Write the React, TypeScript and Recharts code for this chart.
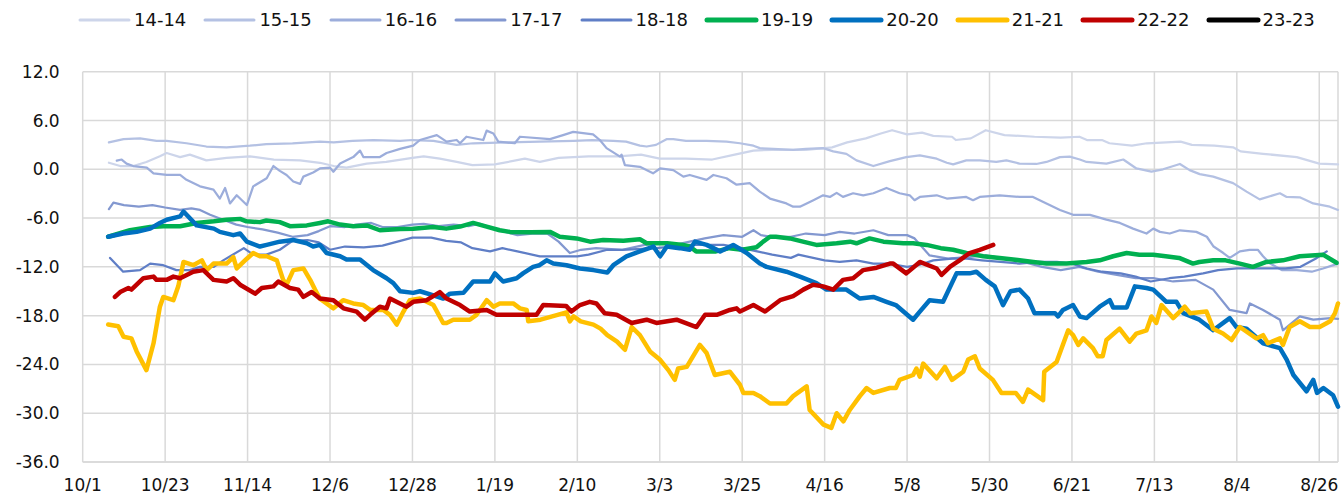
import React from 'react';
import { LineChart, Line, XAxis, YAxis, CartesianGrid, Legend } from 'recharts';

const X_LABELS = ['10/1','10/23','11/14','12/6','12/28','1/19','2/10','3/3','3/25','4/16','5/8','5/30','6/21','7/13','8/4','8/26'];
const X_TICKS = [0,22,44,66,88,110,132,154,176,198,220,242,264,286,308,330];
const Y_TICKS = [-36,-30,-24,-18,-12,-6,0,6,12];

const S14_D = [7,10,13.5,17,20.6,22.4,26,28.6,33,38.4,44.6,51,58,63.3,67,70.4,75.8,81,88,91,95.3,99.8,104,110,118,122,127,135,143,149,154,161,168,174,179,184,193,200,204,209,213,216,220,224,227,232,233,237,241,246,254,261,266,268,272,274,280,284,293,296,302,307,309,315,324,330,335];
const S14_V = [0.8,0.4,0.4,0.9,1.6,2.0,1.5,1.8,1.1,1.4,1.6,1.2,1.1,0.8,0.4,0.2,0.7,0.9,1.4,1.6,1.3,0.9,0.5,0.6,1.3,0.9,1.4,1.6,1.6,1.8,1.3,1.3,1.2,1.8,2.3,2.4,2.4,2.7,3.3,3.8,4.4,4.8,4.3,4.5,4.1,4.0,3.6,3.8,4.8,4.2,4.0,3.9,4.0,3.6,3.6,3.2,2.9,3.2,3.4,3.0,2.9,2.7,2.2,1.9,1.5,0.7,0.6];

const S15_D = [7,10.9,15.3,19.7,22.4,27.7,33,38.4,44.6,49,56,63.3,67,72,77.6,84.7,88,93.6,99.8,104.2,113,122,131,136,141.6,145,148.7,150.5,153,155.8,157.6,161,166.5,171.8,175.4,179,180.7,184.3,189.6,193,197.6,200.3,203.8,206.5,211,215.4,219.8,223.4,227.9,230.6,232.3,235.8,239.4,243.8,246.5,250,254.5,257.2,260.8,263.4,266.1,267.9,273.2,277.7,281.2,285.2,288.3,292.8,295.4,298.1,301.7,307,310.6,314.1,319.5,321.3,324.8,328.4,332.8,335];
const S15_V = [3.3,3.7,3.8,3.5,3.5,3.2,2.8,2.7,2.9,3.1,3.2,3.4,3.3,3.5,3.6,3.5,3.6,3.5,3.0,3.2,3.3,3.4,3.5,3.6,3.5,3.4,2.9,2.8,3.0,3.7,3.7,3.5,3.5,3.4,3.2,2.9,2.6,2.5,2.4,2.5,2.6,2.2,1.9,1.1,0.4,1.0,1.5,1.7,1.3,0.8,0.6,1.1,1.1,0.9,1.1,0.7,0.65,0.9,1.5,1.55,1.2,0.9,0.7,1.2,0.1,-0.3,0.0,0.65,-0.1,-0.6,-0.9,-1.7,-2.75,-3.7,-2.95,-3.4,-3.45,-4.2,-4.6,-5.0];

const S16_D = [9.1,10.4,11.7,13.5,17.1,18.9,22.4,26,27.7,31.3,34.9,36.6,38,39.3,41.1,43.8,45.5,49.1,50.9,52.6,54.4,56.2,58,58.9,61.5,63.3,66,66.9,68.7,72.2,74,74.9,79.3,81.1,84.7,88.2,90,94.5,97.1,99.8,100.7,102.4,106.9,107.8,109.6,110.9,115.3,116.7,124.7,128.2,130.9,136.2,138,139.8,143.4,143.8,144.7,148.7,152.2,154.1,157.6,160.3,162,166.5,168.3,171.8,174.5,178,180.7,183.4,187.8,189.6,191.4,195,197.6,199.4,201.2,202.9,205.6,208.3,211,214.5,218,220.7,222,223.4,227.9,230.6,235.8,237.6,239.4,244.7,250.1,253.6,257.2,260.8,264.3,268.8,273.2,276.8,280.3,283.9,285.7,287.5,290.1,292.8,297.2,300,301.8,304.4,306.1,308.8,311.4,313.6,315,316.9,320,324,328,331,335];
const S16_V = [1.06,1.2,0.7,0.4,0.2,-0.5,-0.7,-0.7,-1.3,-2.1,-2.5,-3.6,-2.3,-4.2,-3.2,-4.4,-2.1,-1.1,0.4,-0.2,-0.7,-1.5,-1.8,-0.9,-0.4,0.1,0.2,-0.3,0.7,1.5,2.3,1.5,1.5,2.0,2.5,2.9,3.6,4.2,3.4,3.6,3.2,4.0,3.6,4.75,4.4,3.4,3.2,4.0,3.7,4.2,4.6,4.3,3.6,2.6,1.55,1.8,0.5,0.3,-0.5,0.1,-0.1,-0.9,-0.7,-1.3,-0.7,-1.1,-1.9,-1.7,-2.75,-3.6,-4.2,-4.6,-4.6,-3.8,-3.2,-3.4,-2.9,-3.4,-2.95,-3.2,-2.95,-2.3,-2.95,-3.2,-3.8,-3.4,-3.2,-3.6,-3.4,-3.8,-3.4,-3.2,-3.4,-3.4,-4.2,-5.0,-5.6,-5.6,-6.2,-6.6,-7.3,-7.9,-7.3,-7.7,-7.9,-7.5,-7.7,-8.3,-9.5,-10.3,-10.9,-10.1,-9.9,-9.9,-10.7,-11.6,-12.4,-12.4,-12.6,-12.2,-11.6];

const S17_D = [7,8.2,11,15,18.6,22,26,29,31.3,34,38,41,44,48,52,56,60,63,66,70,73,77,80,84,88,91,95,99,103,106,109,112,116,120,124,127,130,133,137,144,150,154,158,162,166,171,176,179,181,184,189,193,198,202,206,211,215,220,222,226,231,236,241,246,251,256,261,266,271,276,281,286,291,297,301.7,306.1,310.6,311.5,315,319.5,320.3,324.8,328.4,333,335];
const S17_V = [-4.9,-4.1,-4.4,-4.6,-4.4,-4.7,-5.0,-4.8,-5.0,-5.6,-6.3,-6.8,-7.1,-7.4,-7.8,-8.3,-8.1,-7.6,-7.0,-7.1,-6.8,-6.6,-7.1,-7.1,-6.8,-6.7,-7.0,-6.8,-7.0,-6.7,-7.2,-7.6,-8.1,-7.9,-7.9,-8.9,-10.3,-9.9,-9.7,-9.9,-9.3,-9.1,-9.3,-8.9,-8.5,-8.1,-8.3,-7.5,-8.1,-8.3,-8.3,-7.9,-8.1,-7.7,-7.9,-7.5,-8.1,-8.1,-8.5,-10.6,-11.0,-10.8,-10.6,-11.0,-11.4,-12.0,-12.4,-12.0,-12.6,-13.0,-13.4,-13.4,-13.8,-13.6,-14.8,-17.3,-17.7,-16.5,-17.3,-18.5,-19.8,-18.1,-18.5,-18.3,-18.4];

const S18_D = [7.3,10.8,15.3,18,21.5,25,28.6,31.3,35,37.5,43,45.5,49,52.6,56,60,63,66,70,75,80,84,88,93,97,101,104,108.7,112,116,122,132,135,140,144,153,162,171,176,180,184,189,191,198,202,206.5,211,215,220,223,227,232,236,240,245,250,255,260,264,268,272,277,281,285,290,294,299,303,308,312,317,321,325,329,332];
const S18_V = [-10.9,-12.6,-12.4,-11.6,-11.8,-12.4,-12.4,-12.0,-12.0,-11.2,-9.7,-10.5,-10.5,-9.9,-8.8,-8.7,-9.0,-9.9,-9.5,-9.6,-9.4,-8.9,-8.4,-8.4,-8.8,-9.0,-9.7,-10.1,-9.7,-10.1,-10.7,-10.7,-10.5,-9.9,-9.9,-9.7,-9.3,-9.3,-9.7,-10.1,-10.5,-10.9,-10.5,-11.2,-11.4,-11.2,-11.6,-11.6,-12.0,-11.8,-11.2,-11.0,-11.0,-11.2,-11.4,-11.6,-11.4,-11.4,-11.6,-12.2,-12.6,-12.8,-13.2,-13.8,-13.4,-13.2,-12.8,-12.4,-12.2,-12.2,-12.2,-12.2,-12.0,-11.0,-10.1];

const S19_D = [6.8,12.6,18,21.5,26,30.4,35,38.4,42,43.7,47.3,49,52.6,55.3,59.8,63.3,65.5,68.7,72.2,75.8,79.3,84.7,88.2,93.5,97,100.7,104.2,107.8,111.3,114,119.5,124.7,127.3,131.8,135.4,138.9,144.3,148.7,150.5,156,160.2,162,163.7,169,172.6,176,179.8,181.6,183.4,185,188.7,192.2,195.8,201.2,204.8,206.5,210,213.7,219,221.6,225.2,229,232.3,235.8,240.3,244.7,248.3,253.7,257.2,262.5,267.9,271.4,275,278.6,282,285.7,289,292.6,296.3,298,301.7,305,308.8,312.3,315.9,320.3,324.8,331,334.6];
const S19_V = [-8.3,-7.5,-7.1,-7.0,-7.0,-6.6,-6.4,-6.2,-6.1,-6.4,-6.5,-6.3,-6.5,-7.0,-6.9,-6.6,-6.4,-6.8,-7.0,-6.9,-7.5,-7.35,-7.3,-7.1,-7.3,-7.05,-6.6,-7.05,-7.5,-7.7,-7.75,-7.7,-8.3,-8.5,-8.9,-8.7,-8.8,-8.6,-9.1,-9.1,-9.3,-9.5,-10.1,-10.1,-9.7,-9.9,-9.6,-8.9,-8.3,-8.3,-8.5,-8.9,-9.3,-9.1,-8.9,-9.1,-8.5,-8.9,-9.1,-9.1,-9.3,-9.7,-9.9,-10.3,-10.7,-10.9,-11.1,-11.4,-11.6,-11.6,-11.4,-11.2,-10.7,-10.3,-10.5,-10.5,-10.7,-10.9,-11.6,-11.4,-11.2,-11.2,-11.6,-12.0,-11.4,-11.2,-10.7,-10.5,-11.5];

const S20_D = [6.8,10.8,14.4,18,20.6,22.4,26,26.9,30.4,35,36.6,40.2,42,43.8,47.3,49.1,52.6,56.2,59.8,61.5,63.3,65.1,68.7,70.4,74,77.5,81.1,82.9,84.7,88.2,90,93.6,96.2,98,101.6,104.2,108.7,110,112.2,115.8,117.5,120.2,121.9,123.8,125.6,129.1,132.7,136.3,140,141.6,145.1,148.7,152.3,154.1,155.9,159.3,162,163.4,166.5,170.1,173.6,177.2,180.7,182.5,187.8,191.4,195.8,198.5,203.8,207.4,211,214.5,217,221.6,223.4,226,229.6,233.2,236.7,238.5,241,243.4,245.6,247.6,250,252.3,254,259.5,260.3,261.6,264.3,266.1,267.9,271.4,274.1,275,278.6,280.8,283.9,285.7,289.2,291.9,293.7,298,301.7,306.1,307.9,310.6,315,319.5,321.3,323.1,326.6,328.4,329.4,331.1,333.7,335];
const S20_V = [-8.3,-7.9,-7.7,-7.3,-6.6,-6.2,-5.8,-5.2,-6.9,-7.3,-7.7,-8.1,-7.9,-8.9,-9.5,-9.3,-8.9,-8.7,-9.1,-9.5,-9.3,-10.3,-10.7,-11.1,-11.1,-12.4,-13.4,-14.0,-15.0,-15.2,-15.0,-15.5,-15.9,-15.3,-15.2,-13.8,-13.8,-12.8,-13.8,-13.4,-12.8,-12.0,-11.8,-11.2,-11.6,-11.8,-12.2,-12.4,-12.7,-11.8,-10.7,-10.1,-9.5,-10.7,-9.5,-9.7,-9.9,-8.9,-9.3,-10.1,-9.3,-10.3,-11.6,-12.0,-12.6,-13.2,-14.0,-14.8,-14.8,-15.9,-15.7,-16.3,-16.7,-18.5,-17.5,-16.1,-16.3,-12.8,-12.8,-12.6,-13.6,-14.4,-16.7,-15.0,-14.8,-15.9,-17.7,-17.7,-18.1,-17.3,-16.7,-18.1,-18.3,-16.9,-16.1,-17.0,-17.0,-14.4,-14.6,-14.8,-16.3,-16.3,-17.7,-18.5,-19.8,-18.3,-19.4,-19.6,-21.4,-22.0,-23.4,-25.3,-27.3,-25.9,-27.5,-26.9,-27.8,-29.2];

const S21_D = [6.8,9.5,10.9,13,14.4,17,18.9,20.6,21.5,24.2,25.5,26.9,29.5,31.8,33.1,34.9,38.4,40.2,41.1,43.8,45.5,47.3,49.1,51.8,53.5,54.4,56.2,58.9,60.7,62,63.3,66.9,69.5,72.2,74.9,76.7,80.2,82,83.8,85.6,87.3,90,93.6,96.2,97.1,98.9,103.3,105.1,107.8,109.6,111.3,114.9,116.7,118.5,118.9,122.2,129.1,130,131,132.9,136.3,138.2,140,142.6,144.7,146.5,148.7,151.4,154,156.3,158,158.9,161.2,164.7,166.5,168.7,172.7,175.4,176.3,179,180.7,183.4,187.8,189.6,193.2,194,197.7,199.8,201.2,203,204.7,207.4,209.2,211,215.4,217,218,221.6,222.5,223.4,224.3,227.9,230.1,232,235,236.3,238.1,239.4,242.9,245.2,249,250.9,252.3,256.3,256.6,259.9,263,264.3,265.7,267,269.6,270.9,272.2,273.2,276.7,279.4,281.2,283.9,285.2,286.5,287.9,291,292.8,294.1,295.5,299.9,301.7,304.3,306.6,308.8,313.2,315,316.3,319.5,320.3,322.1,324.8,327.5,330.1,332.9,334.2,335];
const S21_V = [-19.1,-19.3,-20.6,-20.8,-22.4,-24.7,-21.4,-16.9,-15.7,-16.1,-14.4,-11.4,-11.8,-11.2,-12.4,-11.6,-11.6,-10.8,-12.2,-11.0,-10.3,-10.7,-10.7,-11.2,-13.6,-14.2,-12.4,-12.2,-13.6,-14.8,-15.9,-17.1,-16.1,-16.5,-16.7,-17.3,-17.3,-17.9,-19.1,-17.5,-16.1,-15.9,-16.7,-18.9,-18.9,-18.5,-18.5,-17.9,-16.1,-16.9,-16.5,-16.5,-17.1,-17.3,-18.7,-18.5,-17.6,-18.7,-18.1,-18.7,-19.1,-19.6,-20.4,-21.2,-22.2,-19.4,-20.4,-22.4,-23.4,-24.7,-25.9,-24.5,-24.3,-21.6,-22.6,-25.3,-24.9,-26.5,-27.5,-27.5,-27.9,-28.8,-28.8,-27.9,-26.7,-29.6,-31.4,-31.8,-30.0,-31.0,-29.6,-27.9,-26.9,-27.5,-26.9,-26.9,-25.9,-25.3,-24.5,-25.5,-23.9,-25.7,-24.3,-25.9,-24.9,-23.4,-23.0,-24.5,-25.9,-27.5,-27.5,-28.6,-27.1,-28.4,-24.9,-23.7,-19.8,-20.4,-21.6,-20.8,-22.0,-23.0,-23.0,-21.0,-19.6,-21.2,-20.2,-19.8,-18.1,-18.9,-16.7,-18.3,-17.5,-16.9,-17.7,-17.5,-19.6,-20.2,-21.0,-19.4,-20.8,-20.4,-21.4,-20.8,-21.6,-19.4,-18.7,-19.4,-19.4,-18.7,-17.7,-16.5];

const S22_D = [8.6,10,12.2,13,16.2,18.9,19.7,22.4,24.2,26,29.5,32.2,34.9,38.4,40.2,42,46,47.8,50.9,52.2,55.3,57.5,58.9,61.1,63.3,66.9,69.6,73.1,75.3,76.7,79.3,81.1,82,86.4,88.2,91.8,95.3,97.1,100.7,103.3,107.8,110.4,114.9,121.1,122.9,129,130.4,132.7,135.3,137.1,139.3,142.5,146.5,150.5,153.1,158.5,163.8,166.1,169.2,172.7,174.5,175.4,179,182.1,186.1,189.6,192.3,194.9,197.6,200.3,202.9,205.6,208.3,211.9,215.4,216.3,219.8,223.4,227.9,229.2,231.5,234,236.7,239.4,243];
const S22_V = [-15.7,-15.1,-14.6,-14.8,-13.4,-13.2,-13.6,-13.6,-13.2,-13.4,-12.6,-12.4,-13.6,-13.8,-13.4,-14.2,-15.3,-14.6,-14.4,-13.8,-14.6,-14.8,-15.7,-15.1,-15.9,-16.1,-17.1,-17.5,-18.5,-17.9,-16.9,-17.1,-15.9,-16.9,-16.3,-16.1,-15.1,-15.9,-16.7,-17.5,-17.3,-17.9,-17.9,-17.9,-16.7,-16.8,-17.5,-16.7,-16.3,-16.5,-17.7,-17.9,-18.9,-18.5,-18.9,-18.5,-19.4,-17.9,-17.9,-17.3,-17.1,-17.5,-16.7,-17.5,-16.1,-15.6,-14.8,-14.2,-14.4,-14.8,-13.6,-13.4,-12.4,-12.1,-11.6,-11.6,-12.8,-11.4,-12.2,-13.0,-11.97,-11.2,-10.3,-9.9,-9.3];

const S23_D: number[] = [];
const S23_V: number[] = [];

const mk = (d: number[], v: number[]) => d.map((x, i) => ({ x, y: v[i] }));

const SERIES = [
  { name: '14-14', color: '#CDD5EA', w: 2.25, data: mk(S14_D, S14_V), thick: false },
  { name: '15-15', color: '#B4C1E3', w: 2.25, data: mk(S15_D, S15_V), thick: false },
  { name: '16-16', color: '#9CADDB', w: 2.25, data: mk(S16_D, S16_V), thick: false },
  { name: '17-17', color: '#8398D0', w: 2.25, data: mk(S17_D, S17_V), thick: false },
  { name: '18-18', color: '#5F7EC6', w: 2.25, data: mk(S18_D, S18_V), thick: false },
  { name: '19-19', color: '#00B050', w: 4.5, data: mk(S19_D, S19_V), thick: true },
  { name: '20-20', color: '#0070C0', w: 4.5, data: mk(S20_D, S20_V), thick: true },
  { name: '21-21', color: '#FFC000', w: 4.5, data: mk(S21_D, S21_V), thick: true },
  { name: '22-22', color: '#C00000', w: 4.5, data: mk(S22_D, S22_V), thick: true },
  { name: '23-23', color: '#000000', w: 4.5, data: mk(S23_D, S23_V), thick: true },
];

const FONT = '"DejaVu Sans", sans-serif';

const LegendContent = () => (
  <div style={{ display: 'flex', paddingLeft: 77, fontFamily: FONT, fontSize: 18, color: '#111', lineHeight: '24px' }}>
    {SERIES.map((s) => (
      <div key={s.name} style={{ width: 125.4, flex: 'none', display: 'flex', alignItems: 'center' }}>
        <svg width={55} height={10} style={{ display: 'block' }}>
          <line x1={3} x2={52} y1={5} y2={5} stroke={s.color} strokeWidth={s.thick ? 5 : 3} strokeLinecap="round" />
        </svg>
        <span style={{ marginLeft: 2 }}>{s.name}</span>
      </div>
    ))}
  </div>
);

export default function App() {
  return (
    <div style={{ position: 'absolute', left: 0, top: 0, width: 1344, height: 497, background: '#fff' }}>
      <LineChart width={1344} height={497} margin={{ top: 71.7, right: 6, bottom: 0, left: 0 }}>
        <CartesianGrid stroke="#D9D9D9" strokeWidth={1.5} />
        <XAxis
          type="number"
          dataKey="x"
          domain={[0, 335]}
          ticks={X_TICKS}
          tickFormatter={(v: number) => X_LABELS[X_TICKS.indexOf(v)] ?? ''}
          height={35}
          tickLine={false}
          tickSize={0}
          tickMargin={17}
          axisLine={{ stroke: '#D9D9D9', strokeWidth: 1.5 }}
          tick={{ fill: '#111', fontSize: 17, fontFamily: FONT }}
          interval={0}
        />
        <YAxis
          type="number"
          domain={[-36, 12]}
          ticks={Y_TICKS}
          tickFormatter={(v: number) => v.toFixed(1)}
          width={82.7}
          tickLine={false}
          tickSize={0}
          tickMargin={23}
          axisLine={false}
          tick={{ fill: '#111', fontSize: 17, fontFamily: FONT }}
          interval={0}
        />
        <Legend
          layout="horizontal"
          verticalAlign="middle"
          align="center"
          content={<LegendContent />}
          wrapperStyle={{ top: 8, left: 0, width: 1344 }}
        />
        {SERIES.map((s) => (
          <Line
            key={s.name}
            name={s.name}
            data={s.data}
            dataKey="y"
            type="linear"
            stroke={s.color}
            strokeWidth={s.w}
            strokeLinejoin="round"
            strokeLinecap="round"
            dot={false}
            activeDot={false}
            isAnimationActive={false}
            connectNulls
          />
        ))}
      </LineChart>
    </div>
  );
}
